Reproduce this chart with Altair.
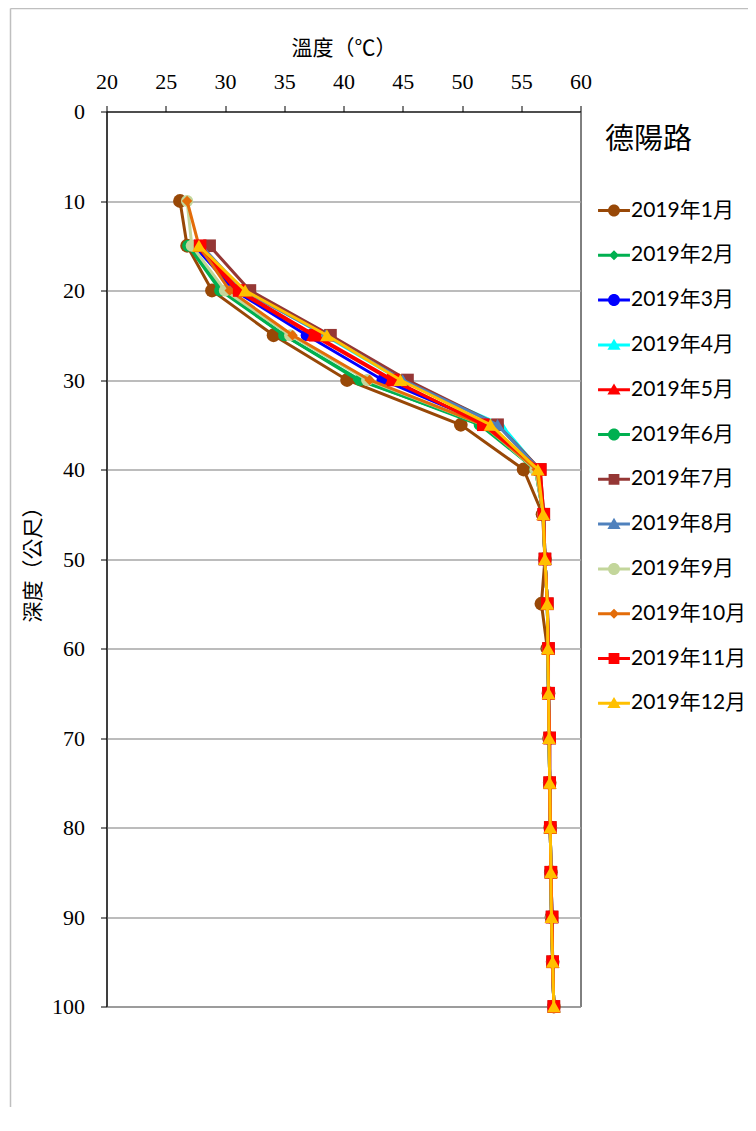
import altair as alt
import pandas as pd

months = ["2019年1月", "2019年2月", "2019年3月", "2019年4月", "2019年5月", "2019年6月",
          "2019年7月", "2019年8月", "2019年9月", "2019年10月", "2019年11月", "2019年12月"]
depths = [10, 15, 20, 25, 30, 35, 40, 45, 50, 55, 60, 65, 70, 75, 80, 85, 90, 95, 100]

t_jan = [26.2, 26.8, 28.9, 34.1, 40.3, 49.9, 55.2, 56.8, 57.0, 56.7, 57.2, 57.3, 57.35, 57.4, 57.45, 57.5, 57.55, 57.65, 57.75]
t_feb = [None, 27.0, 29.8, 35.0, 41.2, 51.8, 56.2, 56.85, 57.0, 57.2, 57.25, 57.3, 57.35, 57.4, 57.45, 57.5, 57.55, 57.65, 57.75]
t_mar = [None, 27.4, 30.8, 36.9, 43.3, 52.3, 56.3, 56.85, 57.0, 57.2, 57.25, 57.3, 57.35, 57.4, 57.45, 57.5, 57.55, 57.65, 57.75]
t_apr = [None, 27.8, 31.6, 38.4, 44.8, 53.3, 56.5, 56.9, 57.0, 57.2, 57.25, 57.3, 57.35, 57.4, 57.45, 57.5, 57.6, 57.65, 57.75]
t_may = [None, 27.6, 31.0, 37.4, 44.0, 52.0, 56.4, 56.85, 57.0, 57.2, 57.25, 57.3, 57.35, 57.4, 57.45, 57.5, 57.55, 57.65, 57.75]
t_jun = [None, 26.9, 29.6, 35.0, 41.4, 51.5, 56.2, 56.85, 57.0, 57.2, 57.25, 57.3, 57.35, 57.4, 57.45, 57.5, 57.55, 57.65, 57.75]
t_jul = [None, 28.7, 32.1, 38.9, 45.4, 53.0, 56.6, 56.9, 57.0, 57.2, 57.3, 57.3, 57.4, 57.4, 57.45, 57.5, 57.6, 57.65, 57.75]
t_aug = [None, 28.0, 31.5, 38.5, 45.0, 53.0, 56.5, 56.9, 57.0, 57.2, 57.3, 57.3, 57.4, 57.4, 57.45, 57.5, 57.6, 57.65, 57.75]
t_sep = [26.8, 27.2, 30.0, 35.5, 42.0, 51.8, 56.2, 56.85, 57.0, 57.2, 57.25, 57.3, 57.35, 57.4, 57.45, 57.5, 57.55, 57.65, 57.75]
t_oct = [26.8, 27.8, 30.4, 35.7, 42.2, 51.8, 56.3, 56.85, 57.0, 57.2, 57.25, 57.3, 57.35, 57.4, 57.45, 57.5, 57.55, 57.65, 57.75]
t_nov = [None, 27.9, 31.2, 37.6, 44.2, 51.8, 56.6, 56.9, 57.0, 57.2, 57.3, 57.3, 57.4, 57.4, 57.45, 57.5, 57.6, 57.65, 57.75]
t_dec = [None, 27.8, 31.7, 38.6, 44.8, 52.4, 56.4, 56.85, 57.0, 57.2, 57.25, 57.3, 57.35, 57.4, 57.45, 57.5, 57.55, 57.65, 57.75]
series = [t_jan, t_feb, t_mar, t_apr, t_may, t_jun, t_jul, t_aug, t_sep, t_oct, t_nov, t_dec]

x_ticks = [20, 25, 30, 35, 40, 45, 50, 55, 60]
y_ticks = [0, 10, 20, 30, 40, 50, 60, 70, 80, 90, 100]

colors = ["#984807", "#00B050", "#0000FF", "#00FFFF", "#FF0000", "#00B050",
          "#953735", "#4F81BD", "#C3D69B", "#E36C09", "#FF0000", "#FFC000"]
shapes = ["circle", "diamond", "circle", "triangle-up", "triangle-up", "circle",
          "square", "triangle-up", "circle", "diamond", "square", "triangle-up"]
sizes = [190, 100, 150, 180, 180, 150, 160, 180, 150, 110, 160, 190]

# legend symbols: line + marker (custom paths, unit = 12px)
LINE = "M-1.58,-0.125H1.08V0.125H-1.58Z "
MARK = {
    "circle": "M0.25,0A0.5,0.5,0,1,1,-0.75,0A0.5,0.5,0,1,1,0.25,0Z",
    "diamond": "M-0.25,-0.42L0.17,0L-0.25,0.42L-0.67,0Z",
    "square": "M-0.7,-0.45H0.2V0.45H-0.7Z",
    "triangle-up": "M-0.25,-0.52L0.3,0.4H-0.8Z",
}
legend_paths = [LINE + MARK[s] for s in shapes]

rows = []
for m, vals in zip(months, series):
    for d, v in zip(depths, vals):
        if v is not None:
            rows.append({"month": m, "depth": d, "temp": v})
df = pd.DataFrame(rows)

xscale = alt.Scale(domain=[20, 60], nice=False, zero=False)
yscale = alt.Scale(domain=[0, 100], nice=False, reverse=True)

x_axis = alt.Axis(orient="top", values=x_ticks, title="溫度（℃）", grid=False,
                  tickSize=6, tickColor="black", domainColor="black",
                  labelFont="Liberation Serif", labelFontSize=22, labelColor="black",
                  labelPadding=12, labelFlush=False, labelOverlap=False,
                  titleFont="Noto Sans CJK TC", titleFontSize=21,
                  titleFontWeight="normal", titleColor="black", titlePadding=12)
y_axis = alt.Axis(orient="left", values=y_ticks, title="深度（公尺）", grid=True,
                  gridColor="#A6A6A6", gridWidth=1.5,
                  tickSize=6, tickColor="black", domainColor="black",
                  labelFont="Liberation Serif", labelFontSize=22, labelColor="black",
                  labelPadding=16, labelFlush=False, labelOverlap=False,
                  titleFont="Noto Sans CJK TC", titleFontSize=21,
                  titleFontWeight="normal", titleColor="black", titlePadding=8)

X = alt.X("temp:Q", scale=xscale, axis=x_axis)
Y = alt.Y("depth:Q", scale=yscale, axis=y_axis)

layers = []
for m, c, s, sz in zip(months, colors, shapes, sizes):
    sub = df[df["month"] == m]
    line = alt.Chart(sub).mark_line(color=c, strokeWidth=3).encode(
        x=X, y=Y, order="depth:Q")
    pts = alt.Chart(sub).mark_point(filled=True, color=c, shape=s, size=sz, opacity=1).encode(
        x=X, y=Y)
    layers += [line, pts]

leg_df = pd.DataFrame({"series": months})
legend = alt.Legend(orient="none", legendX=498.5, legendY=14, title="德陽路",
                    titleFont="Noto Sans CJK TC", titleFontSize=29, titleFontWeight="normal",
                    titleColor="black", titlePadding=44,
                    labelFont="Lato, Noto Sans CJK TC", labelFontSize=21, labelColor="black",
                    labelOffset=2, labelLimit=400, symbolSize=576, symbolStrokeWidth=0,
                    symbolOpacity=1, rowPadding=22.8, padding=0)
leg_layer = alt.Chart(leg_df).mark_point(filled=True, opacity=0).encode(
    color=alt.Color("series:N", scale=alt.Scale(domain=months, range=colors), legend=legend),
    shape=alt.Shape("series:N", scale=alt.Scale(domain=months, range=legend_paths), legend=legend),
)
layers.append(leg_layer)

one = pd.DataFrame({"k": [0]})
border_left = alt.Chart(one).mark_rule(color="#BFBFBF", strokeWidth=1.5).encode(
    x=alt.value(-96), y=alt.value(-103), y2=alt.value(1015))
border_top = alt.Chart(one).mark_rule(color="#BFBFBF", strokeWidth=1.5).encode(
    x=alt.value(-96), x2=alt.value(700), y=alt.value(-103))
layers += [border_left, border_top]

chart = alt.layer(*layers).properties(
    width=474, height=895,
    autosize=alt.AutoSizeParams(type="none"),
    padding={"left": 98.5, "top": 103.5, "right": 167, "bottom": 100},
).configure_view(stroke="black", strokeWidth=1)

chart.save("out.html", embed_options={"renderer": "svg", "actions": False})
